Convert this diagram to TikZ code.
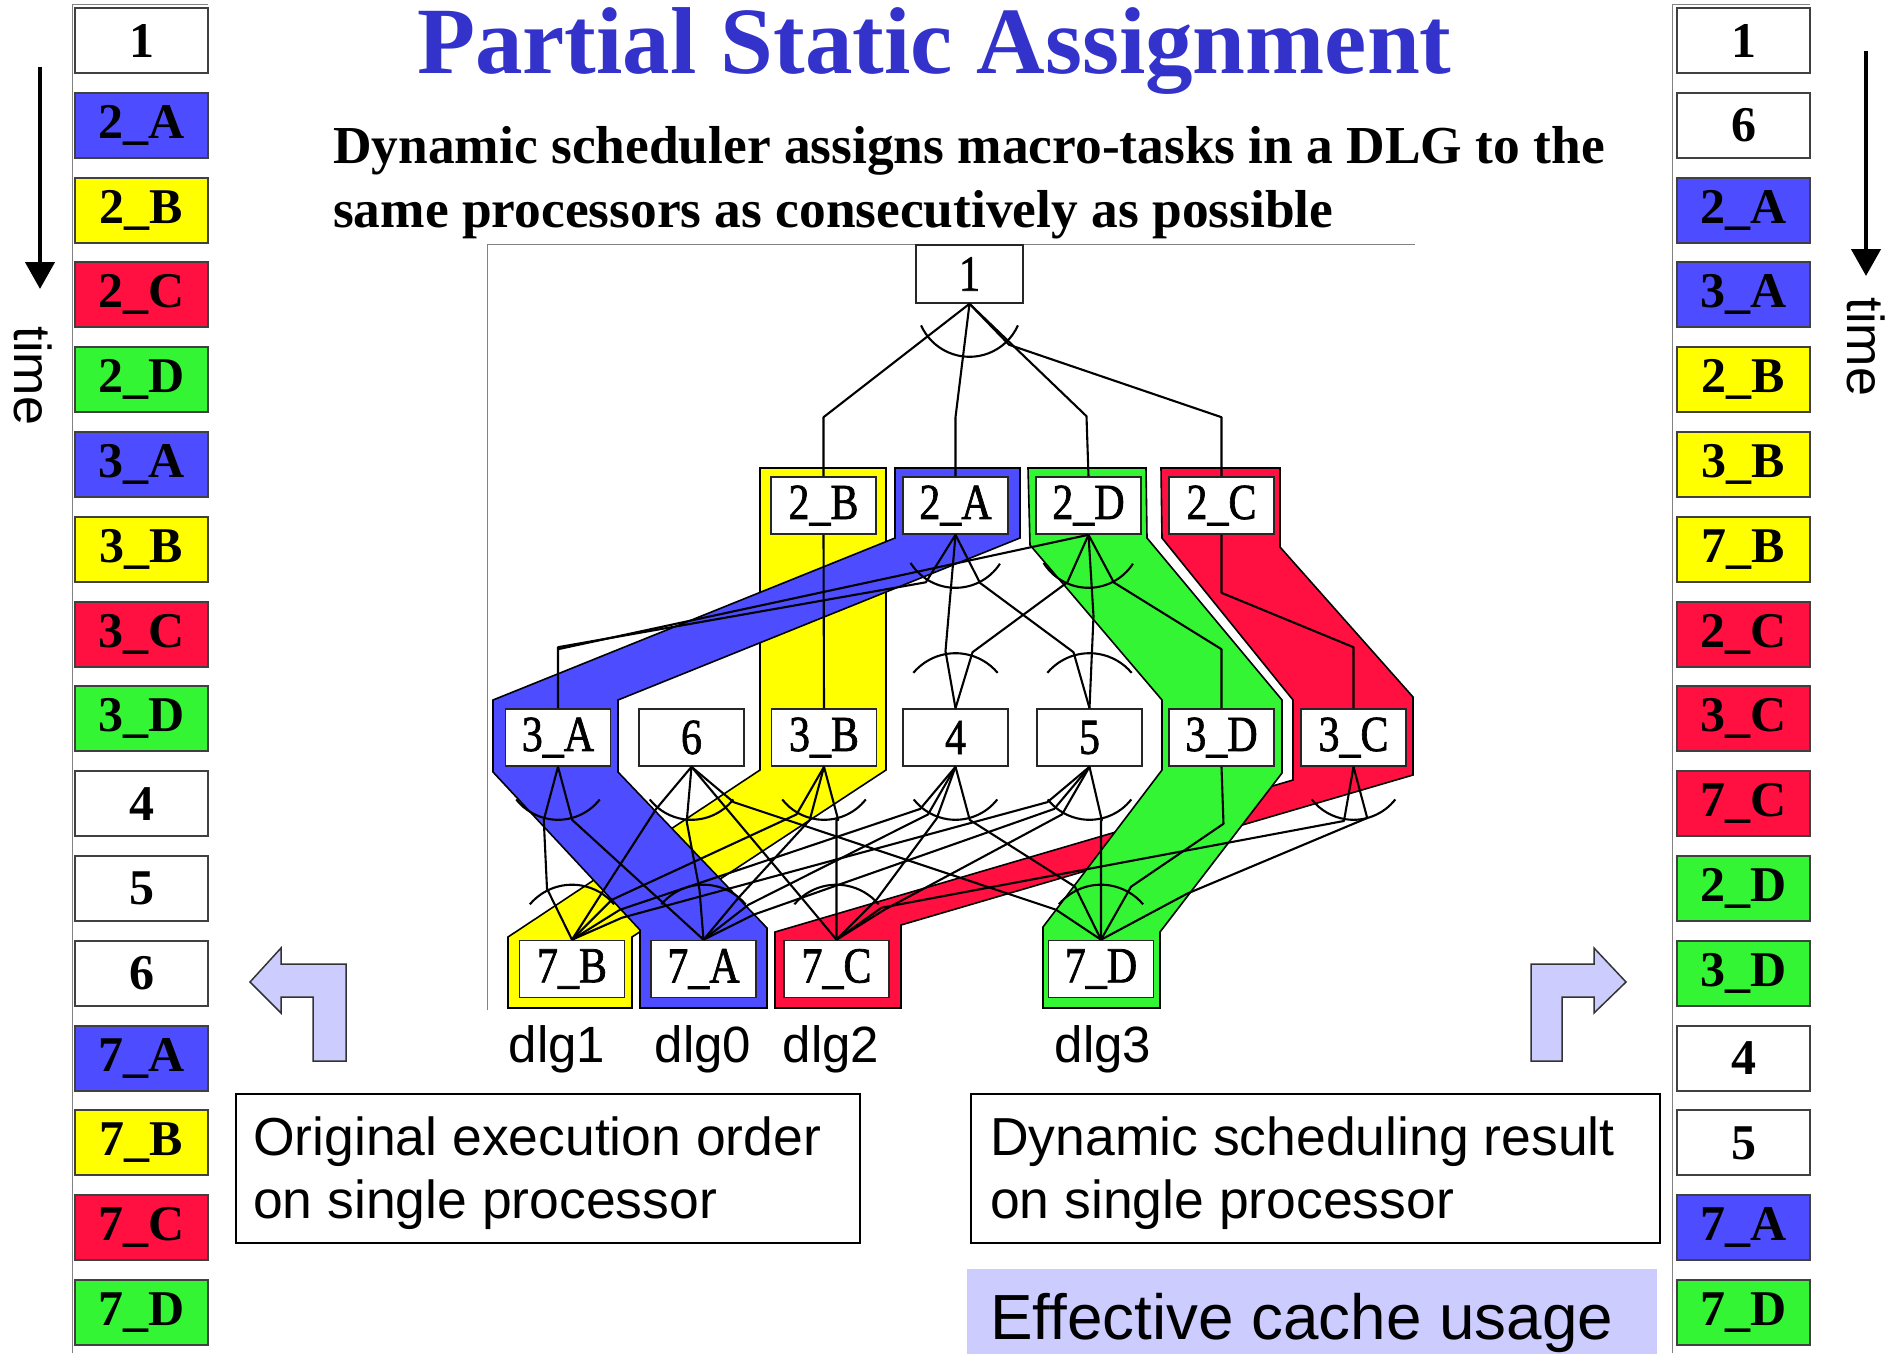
\documentclass[tikz,border=0pt]{standalone}
\usepackage{fontspec}
\usepackage{graphicx}
\setmainfont{Liberation Serif}
\setsansfont{Liberation Sans}
\newfontfamily\taskfont{Liberation Serif}[FakeBold=1.5]
\usetikzlibrary{calc,arrows.meta}
\definecolor{dlgblue}{RGB}{77,77,255}
\definecolor{dlgyellow}{RGB}{255,255,0}
\definecolor{dlgred}{RGB}{255,16,64}
\definecolor{dlggreen}{RGB}{51,245,51}
\definecolor{titleblue}{RGB}{51,51,204}
\definecolor{lavender}{RGB}{204,204,255}
\definecolor{framegray}{RGB}{130,130,130}
% task labels are set slightly taller than wide
\newcommand{\tasklabel}[1]{\scalebox{1}[1.2]{#1}}
\begin{document}
\begin{tikzpicture}[x=1pt,y=-1pt,
  task/.style={draw=black!85, line width=1.6pt, fill=white, minimum width=105pt,
    minimum height=57pt, inner sep=0pt, font=\taskfont\fontsize{42}{42}\selectfont},
  seqbox/.style={draw=black!75, line width=2pt, minimum width=133pt, minimum height=65pt,
    inner sep=0pt, font=\bfseries\fontsize{50}{50}\selectfont},
  band/.style={draw=black, line width=1.6pt, line join=miter},
  dep/.style={line width=2.1pt, line join=round},
  orarc/.style={line width=2.1pt},
  note/.style={draw=black, line width=2.2pt, inner sep=0pt},
  notetext/.style={anchor=base west, inner sep=0pt, font=\sffamily\fontsize{53.5}{53.5}\selectfont},
  dlglabel/.style={anchor=base, inner sep=0pt, font=\sffamily\fontsize{51}{51}\selectfont},
  hook/.style={draw=black!80, line width=1.5pt, fill=lavender, line join=miter},
  timearrow/.style={line width=4.5pt, -{Triangle[width=29pt,length=27pt]}},
  timelabel/.style={rotate=-90, inner sep=0pt, font=\sffamily\fontsize{52}{52}\selectfont}
]
\useasboundingbox (0,0) rectangle (1896,1353);

% ---------- title ----------
\node[anchor=base west, inner sep=0pt, text=titleblue,
      font=\bfseries\fontsize{95}{96}\selectfont] (title) at (417,73) {Partial Static Assignment};
\node[anchor=base west, inner sep=0pt, font=\bfseries\fontsize{53.4}{64}\selectfont] (sub1) at (333,163)
  {Dynamic scheduler assigns macro-tasks in a DLG to the};
\node[anchor=base west, inner sep=0pt, font=\bfseries\fontsize{53.4}{64}\selectfont] (sub2) at (333,227)
  {same processors as consecutively as possible};

% ---------- execution order columns ----------
\draw[framegray, line width=1pt] (72,1353) -- (72,4) -- (208,4);
\draw[framegray, line width=1pt] (1672,1353) -- (1672,4) -- (1810,4);
\foreach \lab/\col [count=\i from 0] in {1/white, 2\_A/dlgblue, 2\_B/dlgyellow, 2\_C/dlgred,
    2\_D/dlggreen, 3\_A/dlgblue, 3\_B/dlgyellow, 3\_C/dlgred, 3\_D/dlggreen, 4/white, 5/white,
    6/white, 7\_A/dlgblue, 7\_B/dlgyellow, 7\_C/dlgred, 7\_D/dlggreen}
  \node[seqbox, fill=\col] (L\i) at (141.5, 40.5+84.8*\i) {\lab};
\foreach \lab/\col [count=\i from 0] in {1/white, 6/white, 2\_A/dlgblue, 3\_A/dlgblue,
    2\_B/dlgyellow, 3\_B/dlgyellow, 7\_B/dlgyellow, 2\_C/dlgred, 3\_C/dlgred, 7\_C/dlgred,
    2\_D/dlggreen, 3\_D/dlggreen, 4/white, 5/white, 7\_A/dlgblue, 7\_D/dlggreen}
  \node[seqbox, fill=\col] (R\i) at (1743.5, 40.5+84.8*\i) {\lab};

% time arrows
\coordinate (tL1) at (40,67);   \coordinate (tL2) at (40,289);
\coordinate (tR1) at (1866,51); \coordinate (tR2) at (1866,276);
\draw[timearrow] (tL1) -- (tL2);
\draw[timearrow] (tR1) -- (tR2);
\node[timelabel] (timeL) at (33,376) {time};
\node[timelabel] (timeR) at (1866,347) {time};

% ---------- macro-task graph ----------
\draw[framegray, line width=1pt] (487,1010) -- (487,244) -- (1415,244);

% data-localizable groups (coloured bands)
\draw[band, fill=dlgyellow] (760,468) -- (886,468) -- (886,770) -- (632,937) -- (632,1008)
  -- (508,1008) -- (508,937) -- (760,770) -- cycle;
\draw[band, fill=dlgblue] (895,468) -- (1020,468) -- (1020,538) -- (618,700) -- (618,772)
  -- (767,928) -- (767,1008) -- (640,1008) -- (640,930) -- (493,772) -- (493,700)
  -- (895,538) -- cycle;
\draw[band, fill=dlgred] (1161,468) -- (1280,468) -- (1280,547) -- (1413,697) -- (1413,775)
  -- (901,925) -- (901,1008) -- (775,1008) -- (775,932) -- (1293,780) -- (1293,700)
  -- (1162,538) -- cycle;
\draw[band, fill=dlggreen] (1028,468) -- (1146,468) -- (1147,538) -- (1282,700) -- (1282,773)
  -- (1160,932) -- (1160,1008) -- (1043,1008) -- (1043,927) -- (1162,770) -- (1162,700)
  -- (1030,545) -- cycle;

% tasks
\node[task, minimum width=107pt, minimum height=58pt] (n1) at (969.5,274) {\tasklabel{1}};
\node[task] (n2B) at (823.5,505.5) {\tasklabel{2\_B}};
\node[task] (n2A) at (955.5,505.5) {\tasklabel{2\_A}};
\node[task] (n2D) at (1088.5,505.5) {\tasklabel{2\_D}};
\node[task] (n2C) at (1221.5,505.5) {\tasklabel{2\_C}};
\node[task] (n3A) at (558,737.5) {\tasklabel{3\_A}};
\node[task] (n6)  at (691.5,737.5) {\tasklabel{6}};
\node[task] (n3B) at (824,737.5) {\tasklabel{3\_B}};
\node[task] (n4)  at (955.5,737.5) {\tasklabel{4}};
\node[task] (n5)  at (1089.5,737.5) {\tasklabel{5}};
\node[task] (n3D) at (1221.5,737.5) {\tasklabel{3\_D}};
\node[task] (n3C) at (1353.5,737.5) {\tasklabel{3\_C}};
\node[task] (n7B) at (572,969) {\tasklabel{7\_B}};
\node[task] (n7A) at (703.5,969) {\tasklabel{7\_A}};
\node[task] (n7C) at (836.5,969) {\tasklabel{7\_C}};
\node[task] (n7D) at (1101,969) {\tasklabel{7\_D}};

% edges 1 -> 2
\draw[dep] (n1.south) -- ($(n2B.north)+(0,-59)$) -- (n2B.north);
\draw[dep] (n1.south) -- ($(n2A.north)+(0,-59)$) -- (n2A.north);
\draw[dep] (n1.south) -- ($(n2D.north)+(-2,-60)$) -- (n2D.north);
\draw[dep] (n1.south) -- ++(46:57) -- ($(n2C.north)+(0,-59)$) -- (n2C.north);
\draw[orarc] ([shift={(24:53)}]n1.south) arc[start angle=24, end angle=156, radius=53];

% edges 2 -> 3
\draw[dep] (n2B.south) -- (n3B.north);
\draw[dep] (n2A.south) -- ++(122:56) -- ($(n3A.north)+(0,-61)$) -- (n3A.north);
\draw[dep] (n2D.south) -- ($(n3A.north)+(0,-59)$);
\draw[dep] (n2A.south) -- ($(n4.north)+(-10,-57)$) -- (n4.north);
\draw[dep] (n2A.south) -- ++(63:54) -- ($(n5.north)+(-16,-56)$) -- (n5.north);
\draw[dep] (n2D.south) -- ++(114:52) -- ($(n4.north)+(17,-56)$) -- (n4.north);
\draw[dep] (n2D.south) -- ($(n5.north)+(4,-92)$) -- (n5.north);
\draw[dep] (n2D.south) -- ++(62:54) -- ($(n3D.north)+(0,-59)$) -- (n3D.north);
\draw[dep] (n2C.south) -- ++(90:58) -- ($(n3C.north)+(0,-61)$) -- (n3C.north);
\draw[orarc] ([shift={(33:53)}]n2A.south) arc[start angle=33, end angle=148, radius=53];
\draw[orarc] ([shift={(33:53)}]n2D.south) arc[start angle=33, end angle=148, radius=53];
\draw[orarc] ([shift={(220:55)}]n4.north) arc[start angle=220, end angle=320, radius=55];
\draw[orarc] ([shift={(220:55)}]n5.north) arc[start angle=220, end angle=320, radius=55];

% edges 3 -> 7
\draw[dep] (n3A.south) -- ++(105:55) -- ($(n7B.north)+(-25,-51)$) -- (n7B.north);
\draw[dep] (n3A.south) -- ++(75:55) -- (n7A.north);
\draw[dep] (n6.south) -- ++(130:55) -- ($(n7B.north)+(30,-47)$) -- (n7B.north);
\draw[dep] (n6.south) -- ++(95:55) -- ($(n7A.north)+(-4,-50)$) -- (n7A.north);
\draw[dep] (n6.south) -- ++(50:55) -- ($(n7C.north)+(-35,-42)$) -- (n7C.north);
\draw[dep] (n6.south) -- ++(40:55) -- ($(n7D.north)+(-45,-30)$) -- (n7D.north);
\draw[dep] (n3B.south) -- ++(75:55) -- ($(n7C.north)+(0,-120)$) -- (n7C.north);
\draw[dep] (n3B.south) -- ++(120:55) -- ($(n7B.north)+(40,-40)$) -- (n7B.north);
\draw[dep] (n3B.south) -- ++(105:55) -- ($(n7A.north)+(35,-42)$) -- (n7A.north);
\draw[dep] (n4.south) -- ++(75:55) -- ($(n7D.north)+(-26,-53)$) -- (n7D.north);
\draw[dep] (n4.south) -- ++(110:55) -- ($(n7C.north)+(40,-40)$) -- (n7C.north);
\draw[dep] (n4.south) -- ++(120:55) -- ($(n7A.north)+(45,-35)$) -- (n7A.north);
\draw[dep] (n4.south) -- ++(130:55) -- ($(n7B.north)+(48,-30)$) -- (n7B.north);
\draw[dep] (n5.south) -- ++(77:55) -- ($(n7D.north)+(0,-119)$) -- (n7D.north);
\draw[dep] (n5.south) -- ++(120:55) -- ($(n7C.north)+(48,-30)$) -- (n7C.north);
\draw[dep] (n5.south) -- ++(130:55) -- ($(n7A.north)+(50,-25)$) -- (n7A.north);
\draw[dep] (n5.south) -- ++(140:55) -- ($(n7B.north)+(50,-22)$) -- (n7B.north);
\draw[dep] (n3D.south) -- ++(88:57) -- ($(n7D.north)+(30,-53)$) -- (n7D.north);
\draw[dep] (n3C.south) -- ++(75:53) -- ($(n7D.north)+(86,-46)$) -- (n7D.north);
\draw[dep] (n3C.south) -- ++(100:55) -- ($(n7C.north)+(45,-32)$) -- (n7C.north);
\foreach \n in {n3A,n6,n3B,n4,n5,n3C}
  \draw[orarc] ([shift={(38:53)}]\n.south) arc[start angle=38, end angle=142, radius=53];
\foreach \n in {n7B,n7A,n7C,n7D}
  \draw[orarc] ([shift={(220:55)}]\n.north) arc[start angle=220, end angle=320, radius=55];

% group labels
\node[dlglabel] (g1) at (557,1062) {dlg1};
\node[dlglabel] (g0) at (703,1062) {dlg0};
\node[dlglabel] (g2) at (831,1062) {dlg2};
\node[dlglabel] (g3) at (1103,1062) {dlg3};

% ---------- pointing arrows ----------
\draw[hook] (313,1061) -- (313,997) -- (281,997) -- (281,1013) -- (250,982) -- (281,948)
  -- (281,964) -- (346,964) -- (346,1061) -- cycle;
\draw[hook] (1562,1061) -- (1562,997) -- (1594,997) -- (1594,1013) -- (1626,982) -- (1594,948)
  -- (1594,964) -- (1531,964) -- (1531,1061) -- cycle;

% ---------- captions ----------
\node[note, anchor=north west, minimum width=624pt, minimum height=149pt] (obox) at (235,1093) {};
\node[notetext] (otext1) at (253,1155) {Original execution order};
\node[notetext] (otext2) at (253,1218) {on single processor};
\node[note, anchor=north west, minimum width=689pt, minimum height=149pt] (dbox) at (970,1093) {};
\node[notetext] (dtext1) at (990,1155) {Dynamic scheduling result};
\node[notetext] (dtext2) at (990,1218) {on single processor};
\node[fill=lavender, inner sep=0pt, anchor=north west, minimum width=690pt, minimum height=90pt] (cbox) at (967,1269) {};
\node[anchor=base west, inner sep=0pt, font=\sffamily\fontsize{63.8}{64}\selectfont] (ctext) at (990,1339) {Effective cache usage};
\end{tikzpicture}
\end{document}
